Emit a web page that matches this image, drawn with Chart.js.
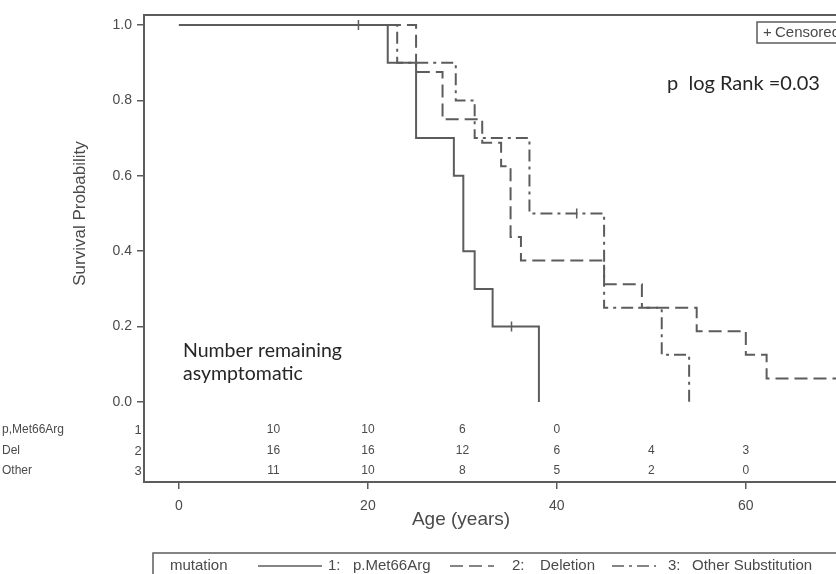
<!DOCTYPE html>
<html><head><meta charset="utf-8">
<script src="https://cdn.jsdelivr.net/npm/chart.js@4"></script>
<style>
html,body{margin:0;padding:0;background:#fff;overflow:hidden;width:836px;height:574px}
#wrap{position:relative;width:900px;height:574px}
</style>
</head><body><div id="wrap"><canvas id="c" width="900" height="574"></canvas></div>
<script>
// ---- data ----
const groupNames = ['p.Met66Arg', 'Deletion', 'Other Substitution'];
const riskLabels = ['p,Met66Arg', 'Del', 'Other'];
const riskAges = [10, 20, 30, 40, 50, 60, 70];
const riskMet = [10, 10, 6, 0, null, null, null];
const riskDel = [16, 16, 12, 6, 4, 3, 1];
const riskOther = [11, 10, 8, 5, 2, 0, null];

const metTimes = [0, 22.1, 25.1, 29.1, 30.1, 31.3, 33.2, 38.1];
const metSurv  = [1, 0.9, 0.7, 0.6, 0.4, 0.3, 0.2, 0];
const delTimes = [0, 25.1, 27.9, 32.1, 34.1, 35.1, 36.2, 45.0, 49.0, 54.8, 60.0, 62.2, 76];
const delSurv  = [1, 0.875, 0.75, 0.6875, 0.625, 0.4375, 0.375, 0.3125, 0.25, 0.1875, 0.125, 0.0625, 0.0625];
const othTimes = [0, 23.1, 29.3, 31.3, 37.1, 45.0, 51.1, 54.0];
const othSurv  = [1, 0.9, 0.8, 0.7, 0.5, 0.25, 0.125, 0];
const censorMetT = [35.2], censorMetS = [0.2];
const censorOthT = [19.0, 42.1], censorOthS = [1.0, 0.5];

const xTicks = [0, 20, 40, 60];
const yTicks = [0, 0.2, 0.4, 0.6, 0.8, 1.0];
const xMin = -3.697, xMax = 75.63;
const yMin = -0.2122, yMax = 1.0265;

// ---- style ----
const grey = '#5c5c5c';
const txt = '#4a4a4a';
const sas = "'Liberation Sans', Arial, sans-serif";
const cal = "Lato, 'Open Sans', sans-serif";

function pts(t, s) { return t.map((v, i) => ({x: v, y: s[i]})); }

const annot = {
  id: 'annot',
  afterDraw(chart) {
    const {ctx, chartArea: a, scales: {x, y}} = chart;
    ctx.save();
    // frame
    ctx.strokeStyle = grey; ctx.lineWidth = 2;
    ctx.strokeRect(a.left, a.top, a.right - a.left, a.bottom - a.top);

    // y title
    ctx.fillStyle = txt;
    ctx.font = '17px ' + sas;
    ctx.textAlign = 'center'; ctx.textBaseline = 'middle';
    ctx.save();
    ctx.translate(80, (y.getPixelForValue(0) + y.getPixelForValue(1)) / 2);
    ctx.rotate(-Math.PI / 2);
    ctx.fillText('Survival Probability', 0, 0);
    ctx.restore();

    // x title
    ctx.font = '19px ' + sas;
    ctx.fillText('Age (years)', 461, 520);

    // risk table
    const rows = [riskMet, riskDel, riskOther];
    const rowY = [430, 451, 471];
    ctx.font = '12px ' + sas;
    rows.forEach((r, k) => {
      r.forEach((v, i) => {
        if (v === null) return;
        ctx.fillText(String(v), x.getPixelForValue(riskAges[i]), rowY[k]);
      });
    });
    ctx.font = '13px ' + sas;
    rows.forEach((r, k) => { ctx.fillText(String(k + 1), 138, rowY[k]); });
    ctx.textAlign = 'left';
    ctx.font = '12px ' + sas;
    riskLabels.forEach((l, k) => ctx.fillText(l, 2, rowY[k]));

    // annotations
    ctx.fillStyle = '#262626';
    ctx.font = '19.5px ' + cal;
    ctx.fillText('Number remaining', 183, 351);
    ctx.fillText('asymptomatic', 183, 374);
    ctx.font = '20px ' + cal;
    ctx.fillText('p  log Rank =0.03', 667, 84);

    // censored box
    ctx.strokeStyle = grey; ctx.lineWidth = 1.5;
    ctx.strokeRect(757, 22, 200, 21);
    ctx.fillStyle = txt;
    ctx.font = '15px ' + sas;
    ctx.fillText('+', 763, 32.5);
    ctx.fillText('Censored', 775, 32.5);

    // bottom legend
    ctx.strokeRect(153, 553, 800, 60);
    const ly = 566;
    ctx.font = '15px ' + sas;
    ctx.fillText('mutation', 170, ly);
    const samples = [[258, 322, []], [450, 494, [13, 6]], [612, 656, [12, 5, 3, 5]]];
    const labs = [['1:', 328, groupNames[0], 353], ['2:', 512, groupNames[1], 540], ['3:', 668, groupNames[2], 692]];
    samples.forEach((s, i) => {
      ctx.save();
      ctx.strokeStyle = grey; ctx.lineWidth = 1.5; ctx.setLineDash(s[2]);
      ctx.beginPath(); ctx.moveTo(s[0], ly); ctx.lineTo(s[1], ly); ctx.stroke();
      ctx.restore();
      ctx.fillText(labs[i][0], labs[i][1], ly);
      ctx.fillText(labs[i][2], labs[i][3], ly);
    });
    ctx.restore();
  }
};

const lineDs = (label, t, s, dash) => ({
  label, data: pts(t, s), stepped: true, borderColor: grey, borderWidth: 2,
  borderDash: dash, pointRadius: 0, fill: false, tension: 0
});
const censDs = (label, t, s) => ({
  label, data: pts(t, s), showLine: false, pointStyle: 'line', rotation: 90,
  pointRadius: 5, borderColor: grey, borderWidth: 1.5, pointBorderColor: grey
});

new Chart(document.getElementById('c'), {
  type: 'line',
  data: {datasets: [
    lineDs(groupNames[0], metTimes, metSurv, []),
    lineDs(groupNames[1], delTimes, delSurv, [13, 6]),
    lineDs(groupNames[2], othTimes, othSurv, [12, 5, 3, 5]),
    censDs('Censored ' + groupNames[0], censorMetT, censorMetS),
    censDs('Censored ' + groupNames[2], censorOthT, censorOthS)
  ]},
  options: {
    responsive: false, animation: false, devicePixelRatio: 1,
    layout: {padding: {left: 0, top: 15, right: 5, bottom: 0}},
    plugins: {legend: {display: false}, tooltip: {enabled: false}},
    scales: {
      x: {
        type: 'linear', min: xMin, max: xMax,
        afterBuildTicks: s => { s.ticks = xTicks.map(v => ({value: v})); },
        afterFit: s => { s.height = 92; },
        grid: {drawOnChartArea: false, tickLength: 7, color: grey, lineWidth: 1.5},
        border: {display: false},
        ticks: {font: {family: sas, size: 14}, color: txt, padding: 9, maxRotation: 0, autoSkip: false}
      },
      y: {
        type: 'linear', min: yMin, max: yMax,
        afterBuildTicks: s => { s.ticks = yTicks.map(v => ({value: v})); },
        afterFit: s => { s.width = 144; },
        grid: {drawOnChartArea: false, tickLength: 7, color: grey, lineWidth: 1.5},
        border: {display: false},
        ticks: {font: {family: sas, size: 14}, color: txt, padding: 5, autoSkip: false,
                callback: v => v.toFixed(1)}
      }
    }
  },
  plugins: [annot]
});
</script>
</body></html>
